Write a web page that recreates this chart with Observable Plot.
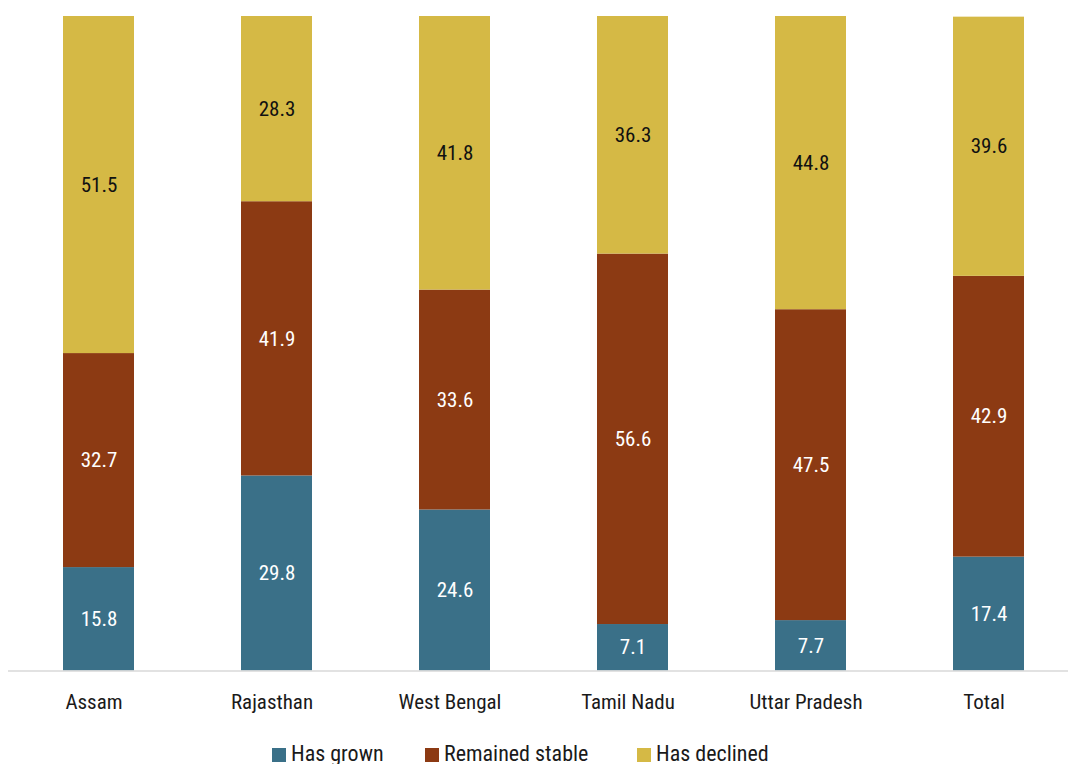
<!DOCTYPE html>
<html>
<head>
<meta charset="utf-8">
<script src="https://cdn.jsdelivr.net/npm/d3@7"></script>
<script src="https://cdn.jsdelivr.net/npm/@observablehq/plot@0.6"></script>
<style>
  html, body { margin: 0; padding: 0; background: #fff; overflow: hidden; }
  body { font-family: "Liberation Sans Narrow", "Roboto Condensed", "Roboto", sans-serif; }
  #legend { position: relative; height: 39px; margin-top: 0; }
  .item { position: absolute; top: 17px; height: 24px; line-height: 24px; font-size: 22px; color: #1a1a1a; white-space: nowrap; }
  .sw { display: inline-block; width: 14px; height: 14px; margin-right: 5px; vertical-align: -1px; }
</style>
</head>
<body>
<div id="chart"></div>
<div id="legend"></div>
<script>
const categories = ["Assam", "Rajasthan", "West Bengal", "Tamil Nadu", "Uttar Pradesh", "Total"];
const seriesNames = ["Has grown", "Remained stable", "Has declined"];
const grown    = [15.8, 29.8, 24.6, 7.1, 7.7, 17.4];
const stable   = [32.7, 41.9, 33.6, 56.6, 47.5, 42.9];
const declined = [51.5, 28.3, 41.8, 36.3, 44.8, 39.6];
const colors = ["#3a7088", "#8c3a13", "#d5b945"];

const seriesValues = [grown, stable, declined];
const data = [];
categories.forEach((c, i) => {
  seriesNames.forEach((s, j) => {
    data.push({category: c, series: s, value: seriesValues[j][i]});
  });
});

const stackOpts = {order: seriesNames};
const chart = Plot.plot({
  width: 1068,
  height: 725,
  marginTop: 16,
  marginBottom: 54.5,
  marginLeft: 8,
  marginRight: 0,
  style: {fontFamily: '"Liberation Sans Narrow", "Roboto Condensed", Roboto, sans-serif', fontSize: "21px", color: "#1a1a1a", background: "#fff"},
  x: {domain: categories, range: [8, 1079], paddingInner: 0.6, paddingOuter: 0.3, label: null, tickSize: 0, tickPadding: 23},
  y: {domain: [0, 100], axis: null},
  color: {domain: seriesNames, range: colors},
  marks: [
    Plot.barY(data, Plot.stackY(stackOpts, {x: "category", y: "value", z: "series", fill: "series"})),
    Plot.ruleY([0], {stroke: "#d9d9d9", strokeWidth: 1.5}),
    Plot.axisX({tickSize: 0, tickPadding: 23, dx: -5, label: null, fontSize: 21}),
    Plot.text(data, Plot.stackY(stackOpts, {
      x: "category", y: "value", z: "series",
      text: d => d.series !== "Has declined" ? d.value.toFixed(1) : null,
      fill: "white", fontSize: 21
    })),
    Plot.text(data, Plot.stackY(stackOpts, {
      x: "category", y: "value", z: "series",
      text: d => d.series === "Has declined" ? d.value.toFixed(1) : null,
      fill: "#111", fontSize: 21
    }))
  ]
});
document.getElementById("chart").appendChild(chart);

const legendLefts = [272, 425, 637];
const legend = document.getElementById("legend");
seriesNames.forEach((s, j) => {
  const it = document.createElement("div");
  it.className = "item";
  it.style.left = legendLefts[j] + "px";
  it.innerHTML = `<span class="sw" style="background:${colors[j]}"></span>${s}`;
  legend.appendChild(it);
});
</script>
</body>
</html>
